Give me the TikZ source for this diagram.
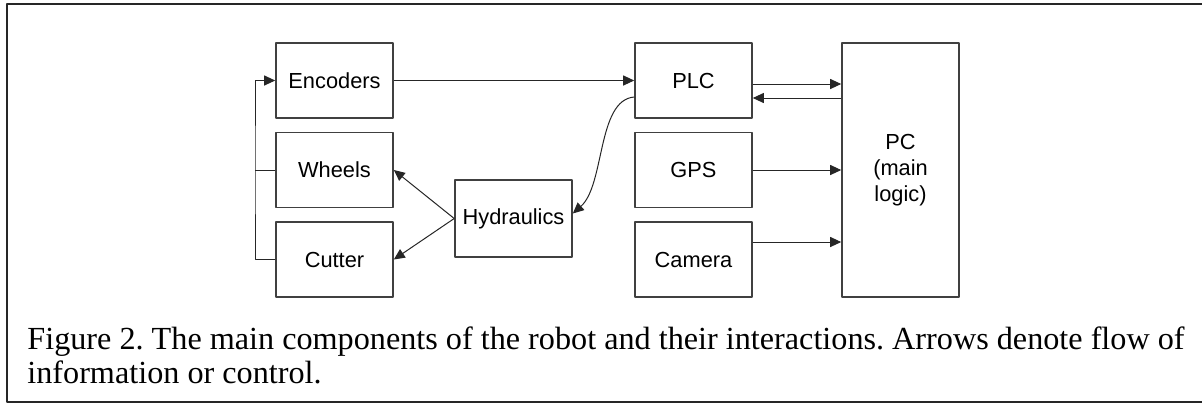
\documentclass[tikz,border=0pt]{standalone}
\usepackage{fontspec}
\setmainfont{Liberation Serif}
\setsansfont{Liberation Sans}
\usetikzlibrary{arrows.meta}
\frenchspacing
\begin{document}
\begin{tikzpicture}[x=0.5pt,y=-0.5pt,line join=bevel]
  \tikzstyle{block}=[draw,thick,black!75,text=black,inner sep=0pt,minimum width=58.5pt,minimum height=37.5pt,
    font=\sffamily\fontsize{10.9}{13}\selectfont,align=center]
  \tikzstyle{link}=[draw,black!85,line width=0.5pt,-{Triangle[length=5.5pt,width=5pt]}]
  \tikzstyle{caption}=[anchor=base west,inner sep=0pt,font=\fontsize{16.1}{18}\selectfont]
  \useasboundingbox (0,0) rectangle (1202,403);
  \draw[line width=1pt,black!85] (1202,4) -- (7,4) -- (7,402) -- (1202,402);
  \node[block] (enc) at (334.5,80.5)  {Encoders};
  \node[block] (whl) at (334.5,170)   {Wheels};
  \node[block] (cut) at (334.5,259.5) {Cutter};
  \node[block,minimum height=38.5pt] (hyd) at (513.5,218.5) {Hydraulics};
  \node[block] (plc) at (693.5,80.5)  {PLC};
  \node[block] (gps) at (693.5,170)   {GPS};
  \node[block] (cam) at (693.5,259.5) {Camera};
  \node[block,minimum height=127pt] (pc) at (900.5,170) {PC\\(main\\logic)};
  \coordinate (bus) at (255,170);
  \draw[link] (cut.west) -| (bus) |- (enc.west);
  \draw[black!85,line width=0.5pt] (whl.west) -- (bus);
  \draw[link] (enc.east) -- (plc.west);
  \draw[link] (hyd.west) -- (whl.east);
  \draw[link] (hyd.west) -- (cut.east);
  \draw[link] ([yshift=-1.75pt]plc.east) -- ([yshift=-1.75pt]plc.east -| pc.west);
  \draw[link] ([yshift=-8.75pt]plc.east -| pc.west) -- ([yshift=-8.75pt]plc.east);
  \draw[link] (gps.east) -- (gps.east -| pc.west);
  \draw[link] ([yshift=8.75pt]cam.east) -- ([yshift=8.75pt]cam.east -| pc.west);
  \draw[link] ([yshift=-8.25pt]plc.west) .. controls (597,100) and (605,185) .. ([yshift=2.5pt]hyd.east);
  \node[caption] (cap1) at (27,349) {Figure 2. The main components of the robot and their interactions. Arrows denote flow of};
  \node[caption] (cap2) at (27,383) {information or control.};
\end{tikzpicture}
\end{document}
